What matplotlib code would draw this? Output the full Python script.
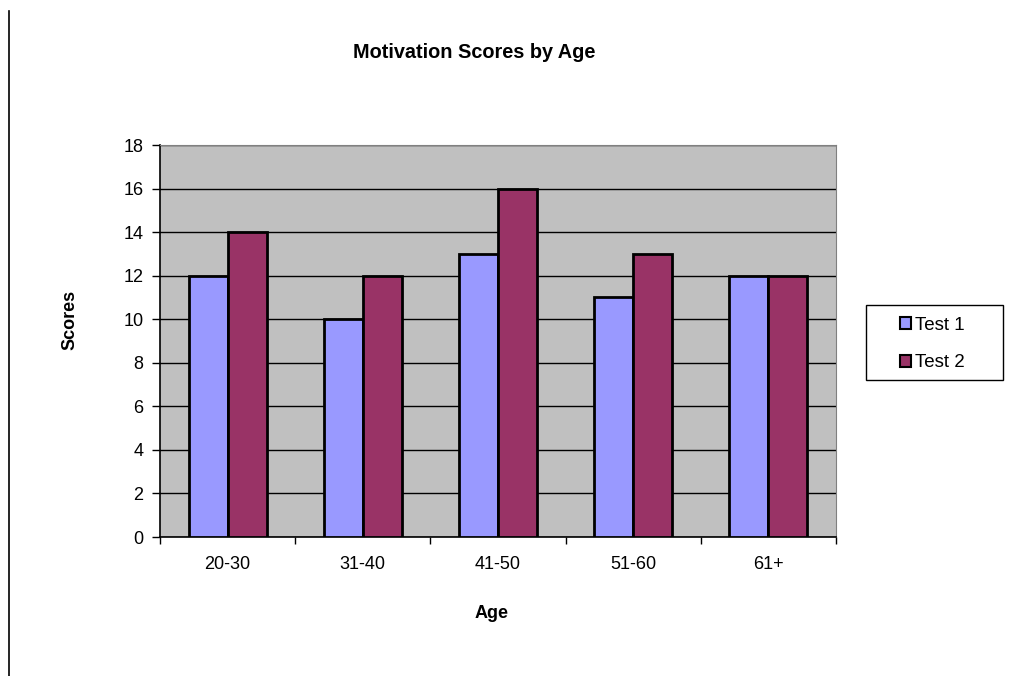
import numpy as np
import matplotlib.pyplot as plt
from matplotlib.lines import Line2D
from matplotlib.patches import Patch, Rectangle

plt.rcParams["font.family"] = ["Liberation Sans", "DejaVu Sans"]

ages = ["20-30", "31-40", "41-50", "51-60", "61+"]
test1 = [12, 10, 13, 11, 12]
test2 = [14, 12, 16, 13, 12]

c1 = "#9999FF"
c2 = "#993366"

W, H = 1014, 676
fig = plt.figure(figsize=(W / 100, H / 100), dpi=100)
ax = fig.add_axes([160 / W, 1 - 537 / H, 676 / W, 392 / H])
ax.set_facecolor("#C0C0C0")

x = np.arange(len(ages))
w = 0.288
ax.bar(x - w / 2, test1, w, color=c1, edgecolor="black", linewidth=2, zorder=3)
ax.bar(x + w / 2, test2, w, color=c2, edgecolor="black", linewidth=2, zorder=3)

ax.set_xlim(-0.5, len(ages) - 0.5)
ax.set_ylim(0, 18)
ax.set_yticks(range(0, 19, 2))
ax.yaxis.grid(True, color="black", linewidth=1, zorder=1)
ax.set_axisbelow(True)

ax.set_xticks(x)
ax.set_xticklabels(ages)
ax.set_xticks(np.arange(-0.5, len(ages)), minor=True)
ax.tick_params(axis="x", which="major", length=0, pad=14, labelsize=13)
ax.tick_params(axis="x", which="minor", length=5, direction="out", width=1)
ax.tick_params(axis="y", length=6, direction="out", width=1, pad=6, labelsize=13)

for s in ["top", "right"]:
    ax.spines[s].set_color("#808080")
ax.spines["left"].set_linewidth(1.2)
ax.spines["bottom"].set_linewidth(1.2)

fig.text(474 / W, 1 - 53 / H, "Motivation Scores by Age", ha="center",
         va="center", fontsize=14.3, fontweight="bold")
fig.text(70 / W, 1 - 320 / H, "Scores", ha="center", va="center",
         rotation=90, fontsize=13, fontweight="bold")
fig.text(492 / W, 1 - 614 / H, "Age", ha="center", va="center",
         fontsize=13, fontweight="bold")

# left border line of the chart area
fig.add_artist(Line2D([8.5 / W, 8.5 / W], [0, 1 - 11 / H],
                      color="black", linewidth=1.2))

# legend box drawn separately so it can be wider than its contents
fig.add_artist(Rectangle((866 / W, 1 - 380 / H), 137 / W, 75 / H,
                         transform=fig.transFigure, facecolor="white",
                         edgecolor="black", linewidth=1))

handles = [Patch(facecolor=c1, edgecolor="black", linewidth=1.5),
           Patch(facecolor=c2, edgecolor="black", linewidth=1.5)]
leg = fig.legend(handles, ["Test 1", "Test 2"], loc="center left",
                 bbox_to_anchor=(900 / W, 1 - 344 / H), fontsize=13.5,
                 frameon=False, handlelength=0.6, handleheight=0.6,
                 handletextpad=0.2, labelspacing=1.1, borderpad=0,
                 borderaxespad=0)
leg.set_zorder(5)

fig.savefig("out.png", dpi=100)
